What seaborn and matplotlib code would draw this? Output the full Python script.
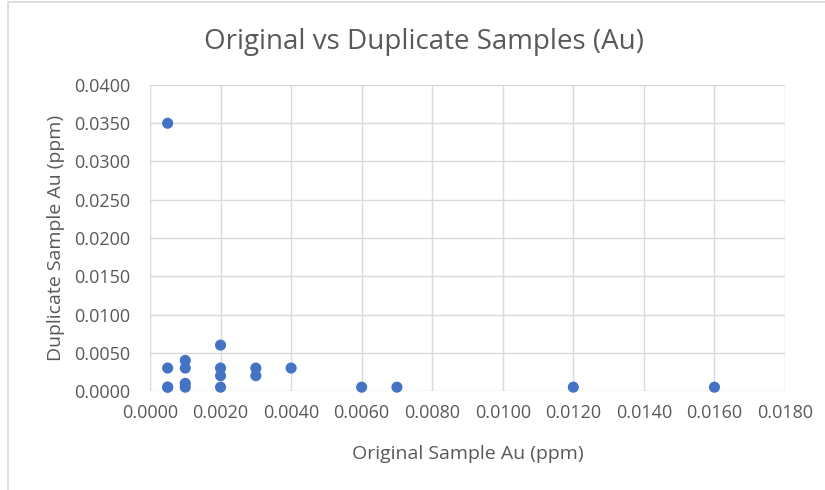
import numpy as np
import pandas as pd
import seaborn as sns
import matplotlib.pyplot as plt
from matplotlib.patches import Rectangle

# Original vs duplicate Au assays (ppm)
original = [0.0005, 0.0005, 0.0005, 0.0005, 0.001, 0.001, 0.001, 0.001,
            0.002, 0.002, 0.002, 0.002, 0.003, 0.003, 0.004,
            0.006, 0.007, 0.012, 0.016]
duplicate = [0.035, 0.003, 0.0005, 0.0005, 0.004, 0.003, 0.001, 0.0005,
             0.006, 0.003, 0.002, 0.0005, 0.003, 0.002, 0.003,
             0.0005, 0.0005, 0.0005, 0.0005]
x_ticks = np.arange(0, 0.0181, 0.002)
y_ticks = np.arange(0, 0.0401, 0.005)

df = pd.DataFrame({'Original': original, 'Duplicate': duplicate})

sns.set_style('white')
plt.rcParams['font.family'] = ['Open Sans', 'DejaVu Sans']

fig = plt.figure(figsize=(8.25, 4.9), dpi=100)
ax = fig.add_axes([150 / 825, 1 - 391 / 490, 635 / 825, 306 / 490])

sns.scatterplot(data=df, x='Original', y='Duplicate', ax=ax, color='#4472C4',
                s=64, edgecolor='none', clip_on=False, zorder=3)

ax.set_xlim(0, 0.018)
ax.set_ylim(0, 0.04)
ax.set_xticks(x_ticks)
ax.set_yticks(y_ticks)
ax.set_xticklabels([f'{v:.4f}' for v in x_ticks])
ax.set_yticklabels([f'{v:.4f}' for v in y_ticks])
ax.tick_params(length=0, labelsize=13, colors='#595959')
ax.tick_params(axis='x', pad=9)
ax.tick_params(axis='y', pad=14)
ax.grid(True, color='#d9d9d9', linewidth=1)
for sp in ax.spines.values():
    sp.set_visible(False)
ax.set_axisbelow(True)

ax.set_xlabel('Original Sample Au (ppm)', fontsize=14, color='#595959', va='center')
ax.set_ylabel('Duplicate Sample Au (ppm)', fontsize=14, color='#595959', va='center')
ax.xaxis.set_label_coords(0.5, (391 - 454) / 306)
ax.yaxis.set_label_coords((56 - 150) / 635, 0.5)

fig.text(424 / 825, 1 - 42 / 490, 'Original vs Duplicate Samples (Au)', ha='center',
         va='center', fontsize=20, color='#595959')

# chart area border (runs off the right and bottom edges)
fig.patches.append(Rectangle((8 / 825, -0.01), 1.0, 1 - 2 / 490 + 0.01,
                             transform=fig.transFigure, fill=False,
                             edgecolor='#d9d9d9', linewidth=1.2))

fig.savefig('out.png', dpi=100)
